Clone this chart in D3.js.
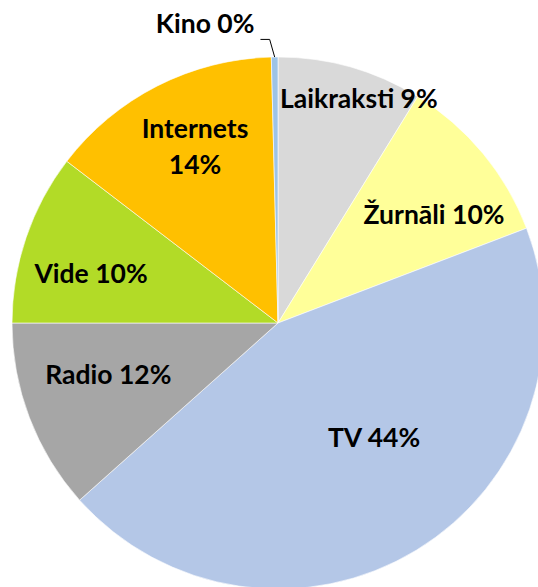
<!DOCTYPE html>
<html>
<head>
<meta charset="utf-8">
<script src="https://cdn.jsdelivr.net/npm/d3@7"></script>
<style>
  body { margin: 0; background: #fff; }
  svg { display: block; }
</style>
</head>
<body>
<div id="chart-area"></div>
<script>
// data (percent of total)
var categories = ["Laikraksti", "Žurnāli", "TV", "Radio", "Vide", "Internets", "Kino"];
var values = [8.8, 10.4, 44.2, 11.6, 10.4, 14.2, 0.4];
var colors = ["#D9D9D9", "#FFFF99", "#B4C7E7", "#A6A6A6", "#B2DB27", "#FFC000", "#9DC3E6"];

// label layout: angle shift (deg) from slice middle, radius from centre
var labelShift = [4.8, 7.3, -6.4, 1, -6.7, 2.8, -13.4];
var labelRadius = [229.5, 184.6, 157, 180.4, 191.2, 202.5, 298.6];

var width = 538;
var height = 587;
var cx = 278, cy = 323;
var radius = 266;

var svg = d3.select("#chart-area")
  .append("svg")
  .attr("width", width)
  .attr("height", height);

var g = svg.append("g")
  .attr("transform", "translate(" + cx + "," + cy + ")");

var data = categories.map((c, i) => ({ name: c, value: values[i], color: colors[i] }));

var pie = d3.pie()
  .sort(null)
  .value(d => d.value);

var arc = d3.arc()
  .innerRadius(0)
  .outerRadius(radius);

var arcs = pie(data);

g.selectAll("path")
  .data(arcs)
  .enter().append("path")
  .attr("d", arc)
  .attr("fill", d => d.data.color)
  .attr("stroke", "#fff")
  .attr("stroke-width", 0.6);

function polar(a, r) {
  return [Math.sin(a) * r, -Math.cos(a) * r];
}

var fmt = d => Math.round(d.data.value) + "%";

arcs.forEach((d, i) => {
  var mid = (d.startAngle + d.endAngle) / 2;
  var p = polar(mid + labelShift[i] * Math.PI / 180, labelRadius[i]);
  var t = g.append("text")
    .attr("x", p[0])
    .attr("y", p[1])
    .attr("text-anchor", "middle")
    .attr("font-family", "Lato, 'Open Sans', sans-serif")
    .attr("font-weight", "bold")
    .attr("font-size", "26.5px")
    .attr("fill", "#000");

  if (d.data.name === "Internets") {
    t.append("tspan").attr("x", p[0]).text(d.data.name);
    t.append("tspan").attr("x", p[0]).attr("dy", 36).text(fmt(d));
  } else {
    t.text(d.data.name + " " + fmt(d));
  }

  // leader line for the tiny slice
  if (d.data.name === "Kino") {
    var box = t.node().getBBox();
    var edge = polar(mid, radius);
    var ly = p[1] + 6;
    g.append("polyline")
      .attr("points", [
        [box.x + box.width + 6, ly],
        [edge[0] - 5, ly],
        edge
      ].map(q => q.join(",")).join(" "))
      .attr("fill", "none")
      .attr("stroke", "#000")
      .attr("stroke-width", 1);
  }
});
</script>
</body>
</html>
